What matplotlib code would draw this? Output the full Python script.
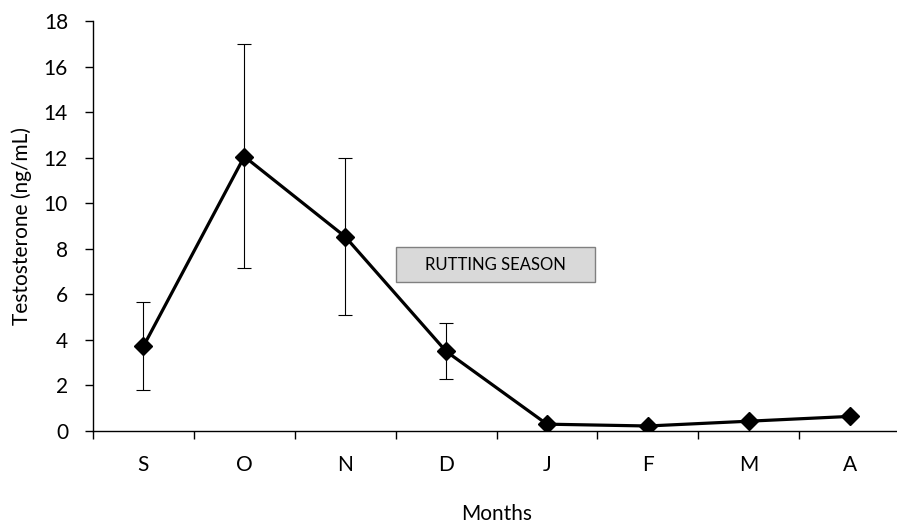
import numpy as np
import matplotlib
matplotlib.use("Agg")
import matplotlib.pyplot as plt
from matplotlib.patches import Rectangle

plt.rcParams['font.family'] = ['Lato', 'DejaVu Sans']

# === Data ===
months = ["S", "O", "N", "D", "J", "F", "M", "A"]
testosterone = [3.72, 12.05, 8.53, 3.5, 0.3, 0.22, 0.43, 0.64]
err_low = [1.92, 4.9, 3.45, 1.2, 0, 0, 0, 0]
err_high = [1.93, 4.92, 3.47, 1.22, 0, 0, 0, 0]

fig = plt.figure(figsize=(8.97, 5.23), dpi=100)
ax = fig.add_axes([93 / 897, 92 / 523, (900 - 93) / 897, (431 - 21) / 523])

x = np.arange(len(months))
ax.errorbar(x, testosterone, yerr=[err_low, err_high], fmt="none",
            ecolor="black", elinewidth=0.8, capsize=5, capthick=0.8, zorder=2)
ax.plot(x, testosterone, color="black", linewidth=2.3, marker="D",
        markersize=9, zorder=3)

ax.set_xlim(-0.5, len(months) - 0.5)
ax.set_ylim(0, 18)
ax.set_yticks(np.arange(0, 19, 2))
ax.set_xticks(x)
ax.set_xticklabels(months)
ax.set_xticks(np.arange(-0.5, len(months), 1), minor=True)
ax.tick_params(axis="x", which="major", length=0, pad=17, labelsize=15)
ax.tick_params(axis="x", which="minor", length=6, width=1)
ax.tick_params(axis="y", direction="out", length=6, width=1, labelsize=15, pad=12)

for side in ["top", "right"]:
    ax.spines[side].set_visible(False)
ax.spines["left"].set_linewidth(1)
ax.spines["bottom"].set_linewidth(1)

ax.set_xlabel("Months", fontsize=15)
ax.set_ylabel("Testosterone (ng/mL)", fontsize=15)
ax.xaxis.set_label_coords(0.5, -0.178)
ax.yaxis.set_label_coords(-0.076, 0.5)

# rutting season label box
ax.add_patch(Rectangle((2.5, 6.55), 1.98, 1.53, facecolor="#d9d9d9",
                       edgecolor="#808080", linewidth=1, zorder=1))
ax.text(3.49, 7.3, "RUTTING SEASON", ha="center", va="center", fontsize=12,
        zorder=1.5)

fig.savefig("out.png", dpi=100)
